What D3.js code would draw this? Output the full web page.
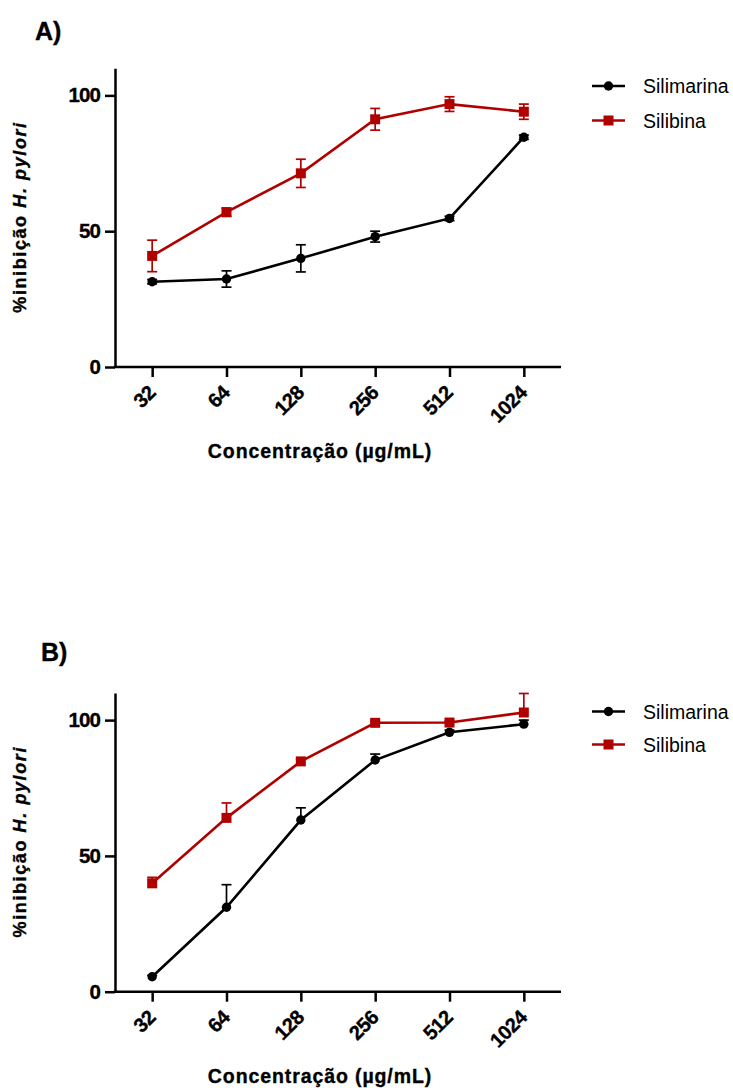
<!DOCTYPE html>
<html>
<head>
<meta charset="utf-8">
<script src="https://cdn.jsdelivr.net/npm/d3@7"></script>
<style>
  html, body { margin: 0; padding: 0; background: #fff; }
  svg { display: block; font-family: "Liberation Sans", Arial, Helvetica, sans-serif; }
</style>
</head>
<body>
<svg id="chart" width="733" height="1088"></svg>
<script>
// ---- data ----
const concentrations = ["32", "64", "128", "256", "512", "1024"];
const seriesNames = ["Silimarina", "Silibina"];
const yTicks = [0, 50, 100];

// Panel A (mean, SEM)
const silimarinaA = [31.4, 32.4, 40.0, 48.0, 54.7, 84.6];
const silimarinaAErr = [0.8, 3.0, 5.0, 2.0, 0.8, 0.8];
const silibinaA = [40.9, 57.0, 71.3, 91.2, 96.8, 94.0];
const silibinaAErr = [5.8, 1.5, 5.2, 4.0, 2.7, 2.8];

// Panel B (mean, SEM - upper bars only)
const silimarinaB = [5.5, 31.1, 63.2, 85.3, 95.5, 98.5];
const silimarinaBErr = [0.5, 8.3, 4.5, 2.2, 0.8, 1.5];
const silibinaB = [39.9, 64.0, 84.8, 99.0, 99.1, 102.8];
const silibinaBErr = [2.2, 5.5, 0.8, 0.5, 0.5, 7.0];

// ---- styling ----
const colors = ["#000000", "#b00000"];
const svg = d3.select("#chart");

function boldify(sel) {
  return sel.attr("font-weight", "bold").attr("stroke", "#000").attr("stroke-width", 0.35)
    .attr("fill", "#000");
}

function drawPanel(opts) {
  const { label, labelX, labelY, y0, data, errs, bothSides, legendY } = opts;
  const g = svg.append("g");

  const x = d3.scalePoint().domain(concentrations).range([115, 561]).padding(0.5);
  const y = d3.scaleLinear().domain([0, 110]).range([y0, y0 - 110 * 2.716]);

  // panel label
  boldify(g.append("text").attr("x", labelX).attr("y", labelY)
    .attr("font-size", 25).text(label));

  // y axis
  const yAxis = g.append("g").attr("transform", "translate(115,0)")
    .call(d3.axisLeft(y).tickValues(yTicks).tickSize(10).tickSizeOuter(0).tickPadding(5));
  yAxis.select(".domain").attr("stroke-width", 2.5);
  yAxis.selectAll(".tick line").attr("stroke-width", 2.5);
  boldify(yAxis.selectAll(".tick text").attr("font-size", 20.5)
    .attr("letter-spacing", -0.9)
    .attr("font-family", '"Liberation Sans", Arial, sans-serif'));

  // x axis
  const xAxis = g.append("g").attr("transform", `translate(0,${y0})`)
    .call(d3.axisBottom(x).tickSize(10).tickSizeOuter(0));
  xAxis.select(".domain").attr("stroke-width", 2.5).attr("d", `M113.75,0H561`);
  xAxis.selectAll(".tick line").attr("stroke-width", 2.5);
  boldify(xAxis.selectAll(".tick text")
    .attr("x", 0).attr("y", 0).attr("dy", 0)
    .attr("transform", "translate(4,27) rotate(-45)")
    .attr("text-anchor", "end")
    .attr("font-size", 20).attr("letter-spacing", -0.5)
    .attr("font-family", '"Liberation Sans", Arial, sans-serif'));

  // axis titles
  boldify(g.append("text").attr("x", 320).attr("y", y0 + 91)
    .attr("text-anchor", "middle").attr("font-size", 19.5)
    .attr("letter-spacing", 0.9)
    .text("Concentração (µg/mL)"));

  const yt = boldify(g.append("text")
    .attr("transform", `translate(25.5,${y0 - 150}) rotate(-90)`)
    .attr("text-anchor", "middle").attr("font-size", 18)
    .attr("letter-spacing", 1.6));
  yt.append("tspan").text("%inibição ");
  yt.append("tspan").attr("font-style", "italic").text("H. pylori");

  // series
  const line = d3.line().x((d, i) => x(concentrations[i])).y(d => y(d));
  data.forEach((vals, s) => {
    const sg = g.append("g");
    const c = colors[s];
    // error bars
    vals.forEach((v, i) => {
      const cx = x(concentrations[i]);
      const top = y(v + errs[s][i]);
      const bot = bothSides ? y(v - errs[s][i]) : y(v);
      sg.append("line").attr("x1", cx).attr("x2", cx).attr("y1", top).attr("y2", bot)
        .attr("stroke", c).attr("stroke-width", 1.7);
      sg.append("line").attr("x1", cx - 5).attr("x2", cx + 5).attr("y1", top).attr("y2", top)
        .attr("stroke", c).attr("stroke-width", 1.7);
      if (bothSides) {
        sg.append("line").attr("x1", cx - 5).attr("x2", cx + 5).attr("y1", bot).attr("y2", bot)
          .attr("stroke", c).attr("stroke-width", 1.7);
      }
    });
    sg.append("path").datum(vals).attr("d", line)
      .attr("fill", "none").attr("stroke", c).attr("stroke-width", 2.6);
    vals.forEach((v, i) => {
      const cx = x(concentrations[i]);
      if (s === 0) {
        sg.append("circle").attr("cx", cx).attr("cy", y(v)).attr("r", 4.7).attr("fill", c);
      } else {
        sg.append("rect").attr("x", cx - 5).attr("y", y(v) - 5)
          .attr("width", 10).attr("height", 10).attr("fill", c);
      }
    });
  });

  // legend
  seriesNames.forEach((name, s) => {
    const ly = legendY[s];
    const c = colors[s];
    g.append("line").attr("x1", 592).attr("x2", 625).attr("y1", ly).attr("y2", ly)
      .attr("stroke", c).attr("stroke-width", 2.6);
    if (s === 0) {
      g.append("circle").attr("cx", 608.5).attr("cy", ly).attr("r", 4.7).attr("fill", c);
    } else {
      g.append("rect").attr("x", 608.5 - 5).attr("y", ly - 5)
        .attr("width", 10).attr("height", 10).attr("fill", c);
    }
    g.append("text").attr("x", 643).attr("y", ly).attr("dy", "0.36em")
      .attr("font-size", 19.5).attr("fill", "#000").text(name);
  });
}

drawPanel({
  label: "A)", labelX: 35, labelY: 40, y0: 367,
  data: [silimarinaA, silibinaA], errs: [silimarinaAErr, silibinaAErr],
  bothSides: true, legendY: [86, 120.5]
});
drawPanel({
  label: "B)", labelX: 41, labelY: 661, y0: 991.7,
  data: [silimarinaB, silibinaB], errs: [silimarinaBErr, silibinaBErr],
  bothSides: false, legendY: [711.5, 744.5]
});
</script>
</body>
</html>
